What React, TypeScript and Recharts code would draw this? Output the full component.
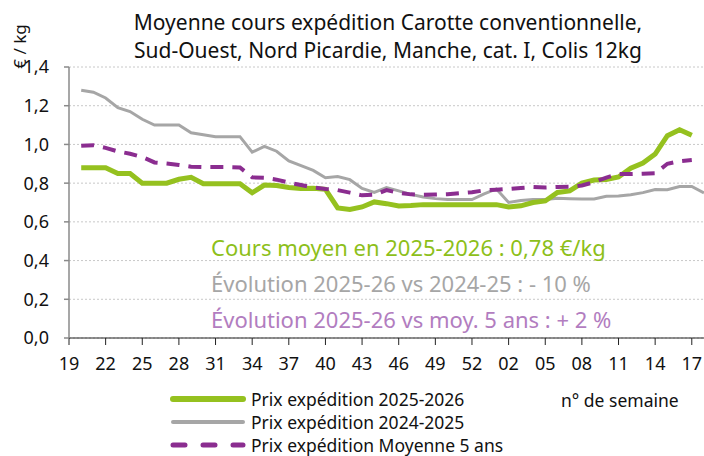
import React from 'react';
import {
  LineChart,
  Line,
  XAxis,
  YAxis,
  CartesianGrid,
} from 'recharts';

document.body.style.margin = '0';

const FONT = '"Noto Sans", "DejaVu Sans", sans-serif';

const weeks = [
  '19', '20', '21', '22', '23', '24', '25', '26', '27', '28', '29', '30', '31', '32', '33',
  '34', '35', '36', '37', '38', '39', '40', '41', '42', '43', '44', '45', '46', '47', '48',
  '49', '50', '51', '52', '53', '01', '02', '03', '04', '05', '06', '07', '08', '09', '10',
  '11', '12', '13', '14', '15', '16', '17', '18',
];

const prix2526 = [
  null, 0.88, 0.88, 0.88, 0.85, 0.85, 0.8, 0.8, 0.8, 0.82, 0.83, 0.797, 0.797, 0.797, 0.797,
  0.75, 0.79, 0.788, 0.778, 0.772, 0.773, 0.768, 0.672, 0.664, 0.677, 0.703, 0.694, 0.682, 0.684, 0.689,
  0.689, 0.689, 0.689, 0.689, 0.689, 0.689, 0.677, 0.683, 0.7, 0.708, 0.752, 0.76, 0.8, 0.816, 0.819,
  0.832, 0.877, 0.904, 0.95, 1.045, 1.076, 1.047, null,
];

const prix2425 = [
  null, 1.28, 1.27, 1.24, 1.19, 1.17, 1.13, 1.1, 1.1, 1.1, 1.06, 1.05, 1.04, 1.04, 1.04,
  0.96, 0.99, 0.965, 0.915, 0.89, 0.866, 0.828, 0.834, 0.818, 0.773, 0.752, 0.777, 0.76, 0.742, 0.728,
  0.72, 0.716, 0.715, 0.715, 0.744, 0.77, 0.7, 0.71, 0.716, 0.716, 0.722, 0.72, 0.718, 0.718, 0.732,
  0.733, 0.74, 0.751, 0.767, 0.766, 0.783, 0.783, 0.75,
];

const moyenne5ans = [
  null, 0.993, 0.996, 0.982, 0.964, 0.952, 0.935, 0.907, 0.901, 0.894, 0.885, 0.883, 0.883, 0.883, 0.881,
  0.83, 0.828, 0.818, 0.803, 0.79, 0.778, 0.77, 0.764, 0.751, 0.737, 0.74, 0.764, 0.75, 0.742, 0.74,
  0.741, 0.743, 0.748, 0.753, 0.763, 0.766, 0.77, 0.775, 0.78, 0.777, 0.78, 0.781, 0.788, 0.805, 0.829,
  0.847, 0.847, 0.849, 0.851, 0.9, 0.913, 0.919, null,
];

const yTicks = [0, 0.2, 0.4, 0.6, 0.8, 1.0, 1.2, 1.4];

const series = [
  { key: 'p2526', name: 'Prix expédition 2025-2026', color: '#95C11F', width: 5, dash: undefined },
  { key: 'p2425', name: 'Prix expédition 2024-2025', color: '#A6A6A6', width: 3, dash: undefined },
  { key: 'm5', name: 'Prix expédition Moyenne 5 ans', color: '#8B2D90', width: 4, dash: '13 9' },
];

const data = weeks.map((w, i) => ({
  week: w,
  p2526: prix2526[i],
  p2425: prix2425[i],
  m5: moyenne5ans[i],
}));

// legend drawn beside the chart so it doesn't shrink the plot area
function LegendBox() {
  return (
    <div style={{ fontSize: 17.5, color: '#111' }}>
      {series.map((s) => (
        <div key={s.key} style={{ display: 'flex', alignItems: 'center', height: 23 }}>
          <svg width={77} height={10} style={{ marginRight: 4 }}>
            <line
              x1={3}
              y1={5}
              x2={73}
              y2={5}
              stroke={s.color}
              strokeWidth={s.width + 1}
              strokeDasharray={s.dash ? '12 18' : undefined}
              strokeLinecap="round"
            />
          </svg>
          <span style={{ lineHeight: '19px' }}>{s.name}</span>
        </div>
      ))}
    </div>
  );
}

export default function App() {
  return (
    <div style={{ position: 'relative', width: 704, height: 456, fontFamily: FONT }}>
      <div
        style={{
          position: 'absolute',
          left: 70,
          width: 636,
          top: 8,
          textAlign: 'center',
          fontSize: 21,
          lineHeight: '28px',
          color: '#111',
        }}
      >
        Moyenne cours expédition Carotte conventionnelle,
        <br />
        Sud-Ouest, Nord Picardie, Manche, cat. I, Colis 12kg
      </div>
      <div
        style={{
          position: 'absolute',
          left: 2,
          top: 29,
          width: 34,
          height: 34,
          display: 'flex',
          alignItems: 'center',
          justifyContent: 'center',
        }}
      >
        <div style={{ transform: 'rotate(-90deg)', fontSize: 17, whiteSpace: 'nowrap', color: '#111' }}>
          € / kg
        </div>
      </div>
      <LineChart
        width={704}
        height={456}
        data={data}
        margin={{ top: 67, right: 0, left: 0, bottom: 88 }}
      >
        <CartesianGrid vertical={false} stroke="#C8C8C8" strokeDasharray="2 2" />
        <XAxis
          dataKey="week"
          interval={2}
          height={30}
          padding={{ left: 0, right: 0 }}
          stroke="#222"
          tickSize={7}
          tickMargin={12}
          tick={{ fill: '#111', fontSize: 18, fontFamily: FONT }}
        />
        <YAxis
          domain={[0, 1.4]}
          ticks={yTicks}
          width={69}
          stroke="#8A8A8A"
          strokeWidth={1.5}
          tickSize={5}
          tickMargin={15}
          tick={{ fill: '#111', fontSize: 18, fontFamily: FONT }}
          tickFormatter={(v: number) => v.toFixed(1).replace('.', ',')}
        />
        <Line
          type="linear"
          dataKey="p2425"
          name={series[1].name}
          stroke={series[1].color}
          strokeWidth={series[1].width}
          dot={false}
          isAnimationActive={false}
        />
        <Line
          type="linear"
          dataKey="p2526"
          name={series[0].name}
          stroke={series[0].color}
          strokeWidth={series[0].width}
          dot={false}
          isAnimationActive={false}
        />
        <Line
          type="linear"
          dataKey="m5"
          name={series[2].name}
          stroke={series[2].color}
          strokeWidth={series[2].width}
          strokeDasharray={series[2].dash}
          dot={false}
          isAnimationActive={false}
        />
      </LineChart>
      <div style={{ position: 'absolute', left: 211, top: 229, fontSize: 22, lineHeight: '36px' }}>
        <div style={{ color: '#8DBF1A' }}>Cours moyen en 2025-2026 : 0,78 €/kg</div>
        <div style={{ color: '#A6A6A6' }}>Évolution 2025-26 vs 2024-25 : - 10 %</div>
        <div style={{ color: '#B27DC0' }}>Évolution 2025-26 vs moy. 5 ans : + 2 %</div>
      </div>
      <div style={{ position: 'absolute', left: 170, top: 387.5 }}>
        <LegendBox />
      </div>
      <div style={{ position: 'absolute', left: 561, top: 390, fontSize: 17.5, lineHeight: '20px', color: '#111' }}>
        n° de semaine
      </div>
    </div>
  );
}
